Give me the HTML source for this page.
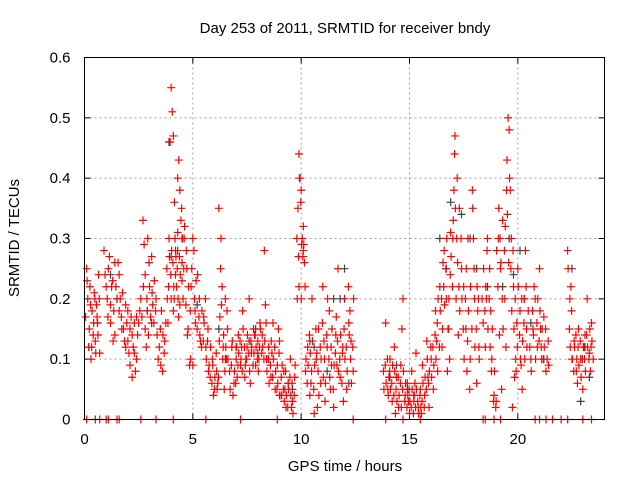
<!DOCTYPE html>
<html><head><meta charset="utf-8">
<style>
body{margin:0;background:#fff;}
svg{display:block;font-family:"Liberation Sans",sans-serif;}
</style></head>
<body>
<svg id="chart" width="640" height="480">
<text x="345" y="33" font-size="15" text-anchor="middle">Day 253 of 2011, SRMTID for receiver bndy</text>
<text x="0" y="0" font-size="15" text-anchor="middle" transform="translate(19,238) rotate(-90)">SRMTID / TECUs</text>
<text x="345" y="471" font-size="15" text-anchor="middle">GPS time / hours</text>
<g id="grid"></g>
<g id="ticks"></g>
<g id="gray"></g>
<g id="red"></g>
<rect x="84.5" y="57.5" width="520" height="362" fill="none" stroke="#000"/>
</svg>
<script>
const xTicks=[0,5,10,15,20];
const yTicks=[0,0.1,0.2,0.3,0.4,0.5,0.6];
const yTickLabels=["0","0.1","0.2","0.3","0.4","0.5","0.6"];
const redT=[0.1,0.15,0.2,0.25,0.3,0.35,0.4,0.45,0.5,0.55,0.6,0.65,0.7,
0.9,1.0,1.1,1.2,1.3,1.4,1.5,1.6,1.7,1.75,1.2,1.4,1.6,
1.8,1.9,2.0,2.1,2.2,2.3,2.4,2.5,2.0,2.2,2.4,1.9,
2.6,2.7,2.8,2.9,3.0,3.1,3.2,3.3,2.75,2.95,3.15,2.85,
3.4,3.5,3.6,3.7,3.55,
3.8,3.9,3.95,4.0,4.05,4.1,4.15,4.2,4.25,4.3,4.35,4.4,4.45,4.5,4.55,4.0,4.1,4.2,4.3,4.4,4.5,3.85,4.6,
4.7,4.8,4.9,5.0,5.1,5.2,5.3,5.4,5.5,4.75,4.95,5.15,5.35,5.0,
5.6,5.7,5.8,5.9,6.0,6.1,6.2,6.3,6.4,6.5,6.6,5.75,5.95,6.15,6.35,6.55,6.25,6.45,
6.7,6.8,6.9,7.0,7.1,7.2,7.3,7.4,7.5,7.6,7.7,7.8,7.9,8.0,8.1,6.85,7.05,7.25,7.45,7.65,7.85,8.05,
8.2,8.3,8.4,8.5,8.6,8.7,8.8,8.9,9.0,9.1,9.2,9.3,9.4,9.5,9.6,9.7,8.35,8.65,8.95,9.25,9.55,
9.8,9.85,9.9,9.95,10.0,10.05,10.1,10.15,9.9,10.0,10.1,
10.2,10.3,10.4,10.5,10.6,10.7,10.8,10.9,11.0,11.1,11.2,11.3,11.4,11.5,11.6,11.7,11.8,11.9,12.0,12.1,12.2,12.3,12.4,10.45,10.75,11.05,11.35,11.65,11.95,12.25,
13.8,13.9,14.0,14.1,14.2,14.3,14.4,14.5,14.6,14.7,14.8,14.9,15.0,15.1,15.2,15.3,15.4,15.5,15.6,15.7,15.8,15.9,14.05,14.35,14.65,14.95,15.25,15.55,15.85,
16.0,16.1,16.2,16.3,16.4,16.5,16.6,16.7,16.8,16.9,17.0,17.1,17.2,17.3,17.4,16.55,16.85,17.05,17.15,17.25,16.25,16.75,
17.5,17.6,17.7,17.8,17.9,18.0,18.1,18.2,17.65,17.95,18.15,
18.4,18.5,18.6,18.7,18.8,18.9,18.55,18.75,
19.0,19.1,19.2,19.3,19.4,19.5,19.55,19.6,19.65,19.7,19.8,19.9,20.0,20.1,20.2,20.3,20.4,19.25,19.45,19.75,19.95,20.15,20.35,19.15,19.85,
20.6,20.7,20.8,20.9,21.0,21.1,21.2,21.3,21.4,20.75,21.05,
22.3,22.4,22.5,22.6,22.7,22.8,22.9,23.0,23.1,23.2,23.3,23.4,22.45,22.75,23.05,23.35,
0.1,0.5,0.7,1.0,1.1,1.5,1.6,2.6,3.3,4.1,5.6,7.2,8.9,12.4,13.9,14.7,15.5,18.4,18.5,18.9,19.2,20.8,21.0,21.3,21.6,22.0,22.3,23.0,23.4];
const redV=[0.25,0.2,0.12,0.22,0.1,0.18,0.14,0.21,0.13,0.19,0.16,0.24,0.11,
0.28,0.22,0.25,0.19,0.23,0.26,0.2,0.24,0.17,0.21,0.16,0.14,0.18,
0.15,0.12,0.18,0.09,0.14,0.11,0.17,0.16,0.13,0.07,0.1,0.19,
0.2,0.33,0.24,0.18,0.22,0.27,0.16,0.2,0.29,0.14,0.19,0.12,
0.1,0.15,0.08,0.13,0.18,
0.25,0.3,0.46,0.55,0.51,0.47,0.36,0.28,0.22,0.4,0.43,0.38,0.33,0.26,0.2,0.2,0.18,0.24,0.31,0.19,0.23,0.16,0.3,
0.28,0.22,0.1,0.3,0.18,0.15,0.2,0.12,0.17,0.14,0.25,0.23,0.13,0.09,
0.12,0.15,0.07,0.1,0.05,0.08,0.35,0.3,0.12,0.2,0.15,0.09,0.04,0.06,0.22,0.1,0.17,0.05,
0.08,0.12,0.06,0.1,0.14,0.09,0.18,0.07,0.12,0.2,0.11,0.15,0.09,0.13,0.16,0.04,0.07,0.12,0.1,0.06,0.14,0.1,
0.14,0.28,0.1,0.12,0.07,0.16,0.05,0.09,0.13,0.04,0.08,0.02,0.06,0.1,0.03,0.07,0.19,0.11,0.15,0.05,0.02,
0.3,0.35,0.44,0.4,0.38,0.3,0.28,0.26,0.22,0.2,0.32,
0.08,0.12,0.04,0.2,0.01,0.1,0.15,0.06,0.22,0.03,0.12,0.18,0.09,0.02,0.14,0.25,0.07,0.11,0.2,0.05,0.16,0.13,0.08,0.06,0.02,0.13,0.05,0.09,0.03,0.18,
0.08,0.16,0.05,0.1,0.03,0.12,0.07,0.02,0.09,0.2,0.04,0.06,0.01,0.08,0.03,0.11,0.02,0.05,0.09,0.04,0.13,0.02,0.07,0.01,0.15,0.03,0.06,0.01,0.07,
0.1,0.05,0.18,0.08,0.22,0.12,0.28,0.2,0.15,0.31,0.3,0.47,0.4,0.35,0.25,0.26,0.1,0.38,0.2,0.14,0.13,0.08,
0.22,0.15,0.3,0.1,0.38,0.2,0.06,0.12,0.08,0.3,0.18,
0.16,0.12,0.3,0.25,0.1,0.04,0.2,0.18,
0.03,0.3,0.25,0.33,0.2,0.43,0.5,0.48,0.38,0.3,0.22,0.1,0.25,0.18,0.05,0.2,0.15,0.05,0.12,0.02,0.16,0.09,0.28,0.14,0.07,
0.1,0.15,0.2,0.12,0.25,0.1,0.17,0.08,0.13,0.22,0.15,
0.28,0.2,0.1,0.13,0.08,0.15,0.1,0.05,0.14,0.2,0.11,0.16,0.22,0.06,0.12,0.08,
0,0,0,0,0,0,0,0,0,0,0,0,0,0,0,0,0,0,0,0,0,0,0,0,0,0,0,0,0];
const extraT=[0.05,0.12,0.22,0.28,0.33,0.42,0.48,0.52,0.58,0.62,0.68,
0.95,1.05,1.15,1.25,1.35,1.45,1.55,1.65,1.72,1.08,1.32,
1.85,1.95,2.05,2.15,2.25,2.35,2.45,2.55,2.1,2.3,
2.65,2.72,2.8,2.88,2.98,3.05,3.12,3.22,3.28,3.35,2.92,
3.45,3.52,3.62,3.68,3.75,
3.82,3.88,3.92,3.98,4.02,4.08,4.12,4.18,4.22,4.28,4.32,4.38,4.42,4.48,4.52,4.58,4.62,4.34,4.14,
4.68,4.72,4.78,4.85,4.88,4.92,5.05,5.08,5.12,5.22,5.28,5.32,5.42,5.48,5.52,5.58,
5.62,5.68,5.72,5.82,5.88,5.92,6.02,6.08,6.12,6.18,6.22,6.28,6.32,6.38,6.42,6.48,6.52,6.58,6.62,
6.72,6.78,6.82,6.92,6.98,7.02,7.08,7.12,7.18,7.22,7.28,7.32,7.38,7.42,7.48,7.52,7.58,7.62,7.68,7.72,7.78,7.82,7.88,7.92,7.98,8.02,8.08,8.12,8.18,
8.22,8.28,8.32,8.38,8.42,8.48,8.52,8.58,8.62,8.68,8.72,8.78,8.82,8.88,8.92,8.98,9.02,9.08,9.12,9.18,9.22,9.28,9.32,9.38,9.42,9.48,9.52,9.58,9.62,9.68,9.72,
9.82,9.88,9.92,9.98,10.02,10.08,10.12,10.18,
10.22,10.28,10.32,10.38,10.42,10.48,10.52,10.58,10.62,10.68,10.72,10.78,10.82,10.88,10.92,10.98,11.02,11.08,11.12,11.18,11.22,11.28,11.32,11.38,11.42,11.48,11.52,11.58,11.62,11.68,11.72,11.78,11.82,11.88,11.92,11.98,12.02,12.08,12.12,12.18,12.22,12.28,12.32,12.38,12.42,
13.82,13.88,13.92,13.98,14.02,14.08,14.12,14.18,14.22,14.28,14.32,14.38,14.42,14.48,14.52,14.58,14.62,14.68,14.72,14.78,14.82,14.88,14.92,14.98,15.02,15.08,15.12,15.18,15.22,15.28,15.32,15.38,15.42,15.48,15.52,15.58,15.62,15.68,15.72,15.78,15.82,15.88,15.92,15.98,
16.02,16.08,16.12,16.18,16.22,16.28,16.32,16.38,16.42,16.48,16.52,16.58,16.62,16.68,16.72,16.78,16.82,16.88,16.92,16.98,17.02,17.08,17.12,17.18,17.22,17.28,17.32,17.38,17.42,17.48,
17.52,17.58,17.62,17.68,17.72,17.78,17.82,17.88,17.92,17.98,18.02,18.08,18.12,18.18,18.22,
18.35,18.42,18.48,18.52,18.58,18.62,18.68,18.72,18.78,18.82,18.88,18.92,18.98,
19.02,19.08,19.12,19.18,19.22,19.28,19.32,19.38,19.42,19.48,19.52,19.58,19.62,19.68,19.72,19.78,19.82,19.88,19.92,19.98,20.02,20.08,20.12,20.18,20.22,20.28,20.32,20.38,20.42,20.48,
20.55,20.62,20.68,20.72,20.82,20.88,20.92,20.98,21.02,21.08,21.12,21.18,21.22,21.28,21.35,21.42,
22.32,22.38,22.42,22.48,22.52,22.58,22.62,22.68,22.72,22.78,22.82,22.88,22.92,22.98,23.02,23.08,23.12,23.18,23.22,23.28,23.32,23.38,23.42,23.48];
const extraV=[0.17,0.23,0.15,0.19,0.12,0.16,0.2,0.11,0.17,0.14,0.2,
0.24,0.2,0.27,0.22,0.18,0.22,0.26,0.2,0.15,0.17,0.13,
0.13,0.16,0.11,0.17,0.12,0.08,0.14,0.18,0.15,0.16,
0.17,0.22,0.15,0.2,0.26,0.17,0.21,0.23,0.18,0.14,0.3,
0.12,0.09,0.14,0.11,0.16,
0.2,0.22,0.27,0.24,0.28,0.26,0.22,0.3,0.27,0.25,0.2,0.27,0.24,0.35,0.3,0.25,0.32,0.17,0.2,
0.19,0.25,0.15,0.09,0.18,0.22,0.28,0.2,0.16,0.24,0.17,0.14,0.18,0.13,0.16,0.2,
0.1,0.13,0.08,0.12,0.06,0.09,0.07,0.11,0.05,0.07,0.13,0.25,0.19,0.1,0.14,0.08,0.12,0.18,0.1,
0.05,0.09,0.13,0.08,0.06,0.12,0.09,0.11,0.13,0.1,0.08,0.15,0.12,0.09,0.1,0.14,0.11,0.08,0.13,0.12,0.09,0.11,0.14,0.12,0.1,0.08,0.12,0.15,0.11,
0.12,0.1,0.13,0.16,0.08,0.1,0.06,0.09,0.13,0.07,0.1,0.12,0.08,0.05,0.06,0.11,0.04,0.07,0.09,0.05,0.03,0.08,0.04,0.02,0.05,0.07,0.04,0.06,0.01,0.04,0.09,
0.2,0.27,0.4,0.36,0.29,0.27,0.29,0.22,
0.1,0.06,0.09,0.14,0.11,0.08,0.13,0.05,0.09,0.15,0.11,0.08,0.04,0.12,0.1,0.16,0.07,0.1,0.06,0.14,0.2,0.1,0.07,0.12,0.15,0.05,0.09,0.11,0.17,0.13,0.08,0.1,0.14,0.06,0.12,0.15,0.1,0.12,0.08,0.22,0.14,0.1,0.06,0.12,0.2,
0.05,0.09,0.06,0.1,0.04,0.08,0.05,0.06,0.09,0.04,0.08,0.05,0.03,0.07,0.04,0.06,0.02,0.05,0.08,0.03,0.06,0.02,0.04,0.05,0.03,0.02,0.05,0.01,0.04,0.02,0.05,0.03,0.01,0.04,0.02,0.03,0.06,0.02,0.07,0.05,0.1,0.06,0.08,0.12,
0.07,0.12,0.09,0.14,0.1,0.16,0.2,0.12,0.18,0.2,0.15,0.22,0.19,0.25,0.3,0.15,0.2,0.24,0.27,0.22,0.33,0.44,0.35,0.3,0.26,0.22,0.18,0.3,0.2,0.15,
0.1,0.2,0.25,0.13,0.18,0.05,0.22,0.15,0.35,0.25,0.12,0.15,0.22,0.2,0.1,
0.2,0.25,0.18,0.22,0.28,0.15,0.2,0.12,0.08,0.15,0.03,0.08,0.02,
0.28,0.22,0.35,0.3,0.26,0.2,0.15,0.28,0.32,0.38,0.34,0.26,0.4,0.25,0.18,0.28,0.15,0.2,0.08,0.12,0.22,0.14,0.1,0.2,0.13,0.16,0.1,0.22,0.12,0.18,
0.12,0.08,0.18,0.14,0.1,0.16,0.2,0.13,0.18,0.12,0.15,0.1,0.12,0.15,0.1,0.09,
0.25,0.15,0.12,0.18,0.1,0.08,0.12,0.14,0.1,0.12,0.09,0.13,0.07,0.1,0.12,0.1,0.08,0.14,0.12,0.1,0.15,0.12,0.13,0.1];
const grayT=[0.2,1.2,2.9,3.9,4.5,5.2,6.5,7.6,8.5,9.4,10.6,11.2,12.0,14.4,15.2,16.4,17.4,18.1,19.3,20.1,20.6,22.5,23.3,7.9,9.0,11.5,16.9,19.8,
4.0,4.3,6.2,7.0,8.0,9.6,10.4,11.8,12.2,14.1,14.9,16.7,17.8,18.6,19.6,20.3,21.2,22.9,23.1,3.1,1.5,0.6];
const grayV=[0.12,0.24,0.18,0.46,0.3,0.19,0.1,0.13,0.1,0.06,0.12,0.08,0.25,0.09,0.04,0.3,0.34,0.25,0.22,0.28,0.16,0.25,0.07,0.15,0.04,0.2,0.36,0.24,
0.27,0.28,0.15,0.12,0.11,0.05,0.13,0.2,0.06,0.07,0.05,0.25,0.3,0.22,0.3,0.2,0.1,0.03,0.12,0.16,0.2,0.16];

const X0=84.5,X1=604.5,Y0=419.5,Y1=57.5;
const xs=t=>X0+t/24*(X1-X0);
const ys=v=>Y0-v/0.6*(Y0-Y1);
const NS="http://www.w3.org/2000/svg";
function mk(tag,attrs,parent){const e=document.createElementNS(NS,tag);for(const k in attrs)e.setAttribute(k,attrs[k]);parent.appendChild(e);return e;}
const grid=document.getElementById('grid'),ticks=document.getElementById('ticks');
yTicks.forEach((v,i)=>{
  const y=ys(v);
  if(i>0&&i<yTicks.length-1){const g=mk('line',{x1:X0,x2:X1,y1:y,y2:y,stroke:'#a0a0a0','stroke-dasharray':'2,3'},grid);
  
  }
  mk('line',{x1:X0,x2:X0+6,y1:y,y2:y,stroke:'#000'},ticks);
  mk('line',{x1:X1,x2:X1-6,y1:y,y2:y,stroke:'#000'},ticks);
  const t=mk('text',{x:X0-14,y:y+5,'font-size':15,'text-anchor':'end'},ticks);
  t.textContent=yTickLabels[i];
  
  
});
xTicks.forEach(v=>{
  const x=xs(v);
  if(v>0){const g=mk('line',{x1:x,x2:x,y1:Y0,y2:Y1,stroke:'#a0a0a0','stroke-dasharray':'2,3'},grid);
  
  }
  mk('line',{x1:x,x2:x,y1:Y0,y2:Y0-6,stroke:'#000'},ticks);
  mk('line',{x1:x,x2:x,y1:Y1,y2:Y1+6,stroke:'#000'},ticks);
  const t=mk('text',{x:x,y:444,'font-size':15,'text-anchor':'middle'},ticks);
  t.textContent=String(v);
  
  
});
function plot(T,V,g,color){
  let d='';
  for(let i=0;i<T.length;i++){const x=xs(T[i]),y=ys(V[i]);d+=`M${x-4},${y}h8M${x},${y-4}v8`;}
  const p=mk('path',{d:d,stroke:color,'stroke-width':1.2,fill:'none'},g);
  
  
}
plot(grayT,grayV,document.getElementById('gray'),'#404040');
plot(redT.concat(extraT),redV.concat(extraV),document.getElementById('red'),'#ff0000');
</script>
</body></html>
